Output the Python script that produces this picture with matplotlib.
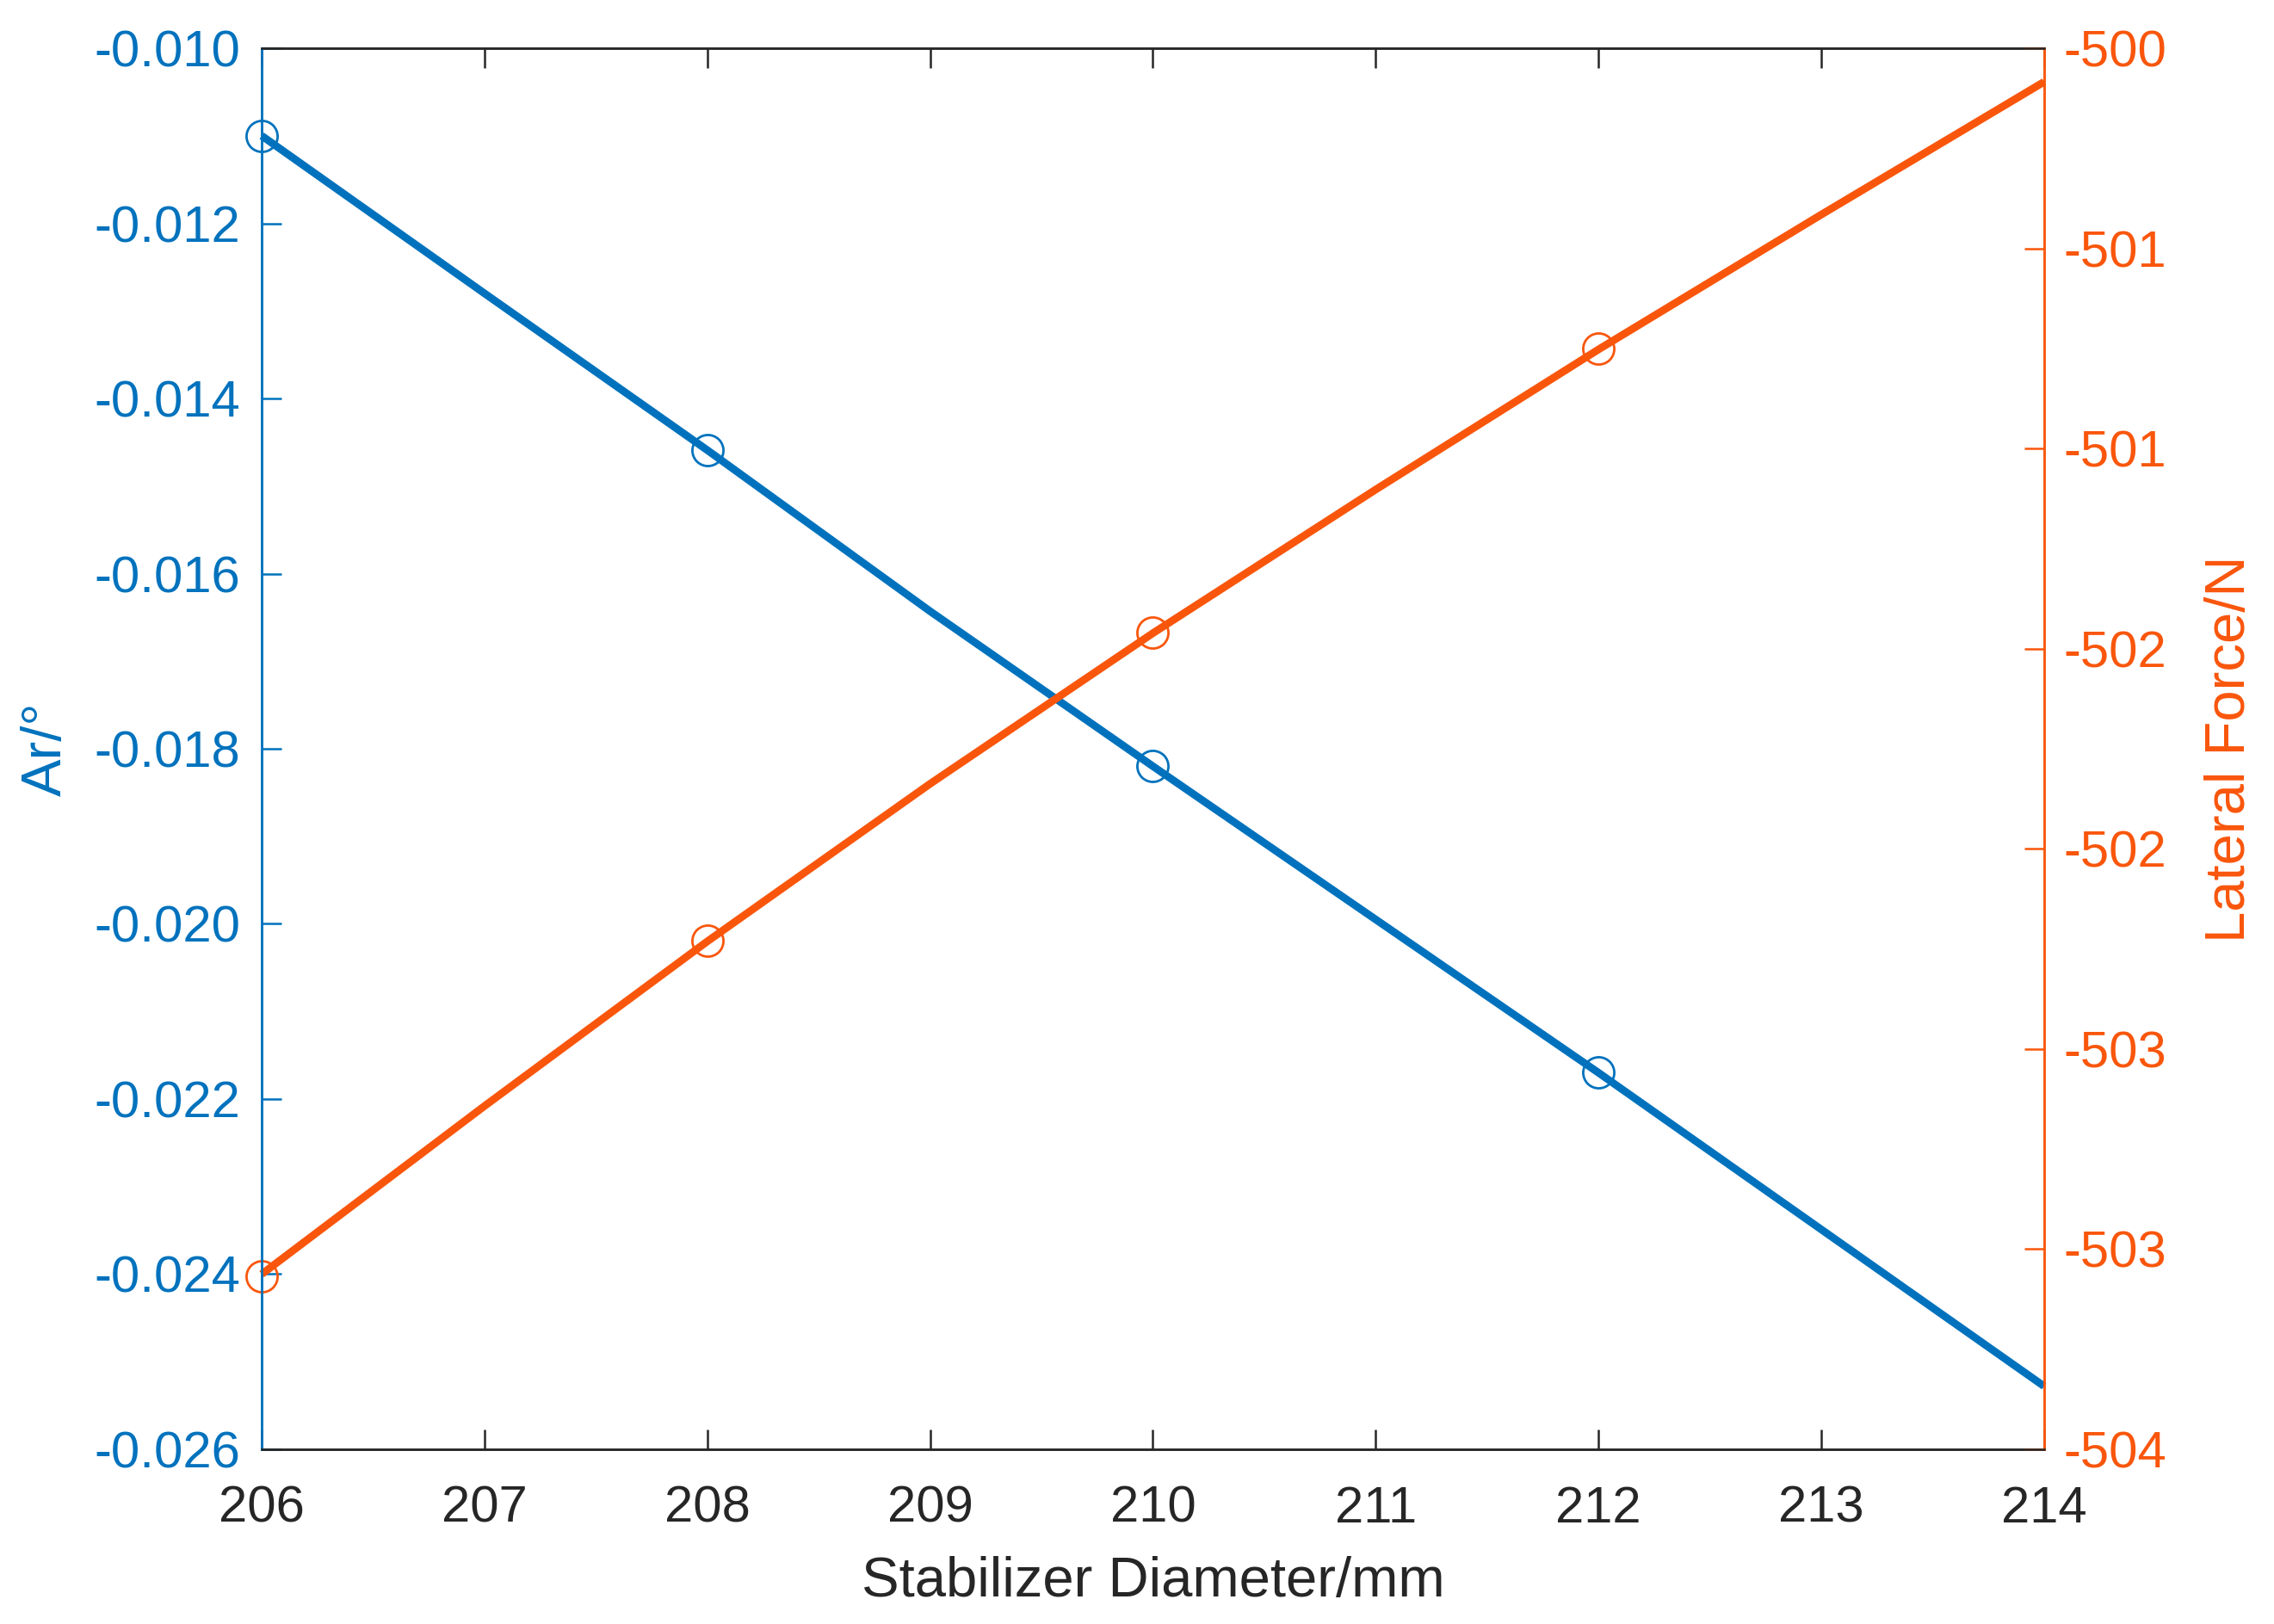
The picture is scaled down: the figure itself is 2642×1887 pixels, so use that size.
import matplotlib
matplotlib.use("Agg")
import matplotlib.pyplot as plt
import numpy as np

plt.rcParams['font.family'] = ['Liberation Sans', 'DejaVu Sans']

# stabilizer diameter (mm)
diam_line = [206, 207, 208, 209, 210, 211, 212, 213, 214]
diam_pts = [206, 208, 210, 212]

# Ar (deg), left axis
ar_line = [-0.01100, -0.01280, -0.01459, -0.01643, -0.01820, -0.01995, -0.02170, -0.02349, -0.02528]
ar_pts = [-0.01100, -0.01459, -0.01820, -0.02170]

# lateral force (N), right axis
force_line = [-503.50, -503.02, -502.55, -502.10, -501.67, -501.26, -500.86, -500.475, -500.096]
force_pts = [-503.506, -502.547, -501.668, -500.857]

xticks = [206, 207, 208, 209, 210, 211, 212, 213, 214]
ar_ticks = [-0.026, -0.024, -0.022, -0.020, -0.018, -0.016, -0.014, -0.012, -0.010]

blue = '#0072BD'
orange = '#F9560C'
dark = '#262626'

fig = plt.figure(figsize=(2642 / 200, 1887 / 200), dpi=200)
ax = fig.add_axes([0.1151, 0.1076, 0.8989 - 0.1151, 0.9703 - 0.1076])
ax2 = ax.twinx()

ax.plot(diam_line, ar_line, color=blue, lw=3.2, solid_capstyle='butt', clip_on=False)
ax.plot(diam_pts, ar_pts, 'o', mfc='none', mec=blue, ms=13, mew=1.0, clip_on=False)
ax2.plot(diam_line, force_line, color=orange, lw=3.2, solid_capstyle='butt', clip_on=False)
ax2.plot(diam_pts, force_pts, 'o', mfc='none', mec=orange, ms=13, mew=1.0, clip_on=False)

ax.set_xlim(206, 214)
ax.set_ylim(-0.026, -0.010)
ax2.set_ylim(-504, -500)

ax.set_xticks(xticks)
ax.set_yticks(ar_ticks)
ax.set_yticklabels([f'{v:.3f}' for v in ar_ticks])
r_ticks = np.linspace(-504, -500, 8)
ax2.set_yticks(r_ticks)
ax2.set_yticklabels([f'{v:.0f}' for v in r_ticks])

tick_kw = dict(direction='in', length=8.3, width=0.9, labelsize=21.5)
ax.tick_params(axis='x', colors=dark, top=True, pad=15, **tick_kw)
ax.tick_params(axis='y', colors=blue, pad=9, **tick_kw)
ax2.tick_params(axis='y', colors=orange, pad=8, **tick_kw)

for a in (ax, ax2):
    for s in a.spines.values():
        s.set_linewidth(0.9)
    a.spines['top'].set_color(dark)
    a.spines['bottom'].set_color(dark)
ax2.spines['left'].set_color(blue)
ax2.spines['right'].set_color(orange)
ax.spines['left'].set_color(blue)
ax.spines['right'].set_color(orange)

ax.set_xlabel('Stabilizer Diameter/mm', fontsize=23.5, color=dark, labelpad=10)
ax.set_ylabel('Ar/°', fontsize=23.5, color=blue, labelpad=9)
ax2.set_ylabel('Lateral Force/N', fontsize=23.5, color=orange, labelpad=16)

fig.savefig('out.png', dpi=200, facecolor='white')
